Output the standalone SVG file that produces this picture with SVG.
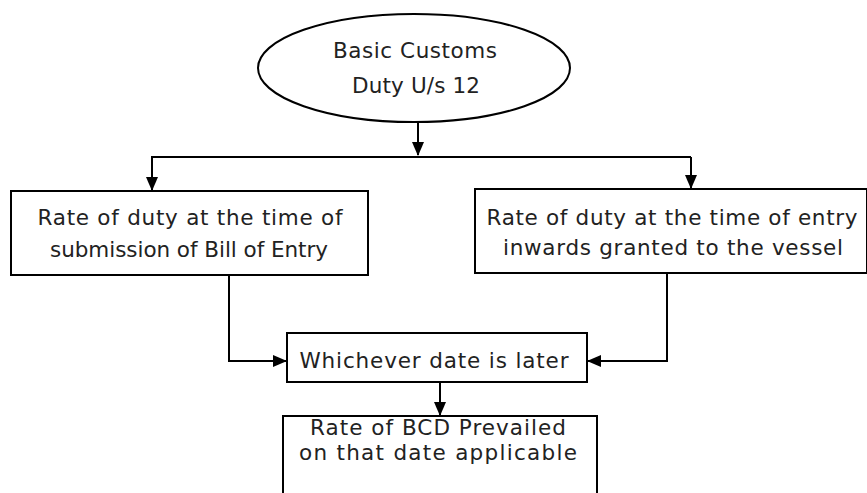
<svg xmlns="http://www.w3.org/2000/svg" width="867" height="493" viewBox="0 0 867 493">
<defs>
<marker id="ah" markerWidth="14" markerHeight="12" refX="13" refY="6" orient="auto" markerUnits="userSpaceOnUse">
<path d="M0,0 L14,6 L0,12 Z" fill="#000"/>
</marker>
<style>
.shape{fill:#fff;stroke:#000;stroke-width:2}
.lbl{font-family:"DejaVu Sans",sans-serif;font-size:21.5px;fill:#222;text-anchor:middle}
.conn{fill:none;stroke:#000;stroke-width:2}
</style>
</defs>
<rect width="867" height="493" fill="#fff"/>
<g id="connectors">
<path class="conn" d="M418,122 V155" marker-end="url(#ah)"/>
<path class="conn" d="M151,157 H691"/>
<path class="conn" d="M152,157 V190" marker-end="url(#ah)"/>
<path class="conn" d="M691,157 V188" marker-end="url(#ah)"/>
<path class="conn" d="M229,275 V361 H286" marker-end="url(#ah)"/>
<path class="conn" d="M667,273 V361 H588" marker-end="url(#ah)"/>
<path class="conn" d="M440,382 V415" marker-end="url(#ah)"/>
</g>
<g id="n1">
<ellipse class="shape" cx="414" cy="68" rx="156" ry="54"/>
<text class="lbl" x="415" y="58" textLength="164" lengthAdjust="spacing">Basic Customs</text>
<text class="lbl" x="416" y="93" textLength="128" lengthAdjust="spacing">Duty U/s 12</text>
</g>
<g id="n2">
<rect class="shape" x="11" y="191" width="357" height="84"/>
<text class="lbl" x="190" y="225" textLength="305" lengthAdjust="spacing">Rate of duty at the time of</text>
<text class="lbl" x="189" y="257" textLength="278" lengthAdjust="spacing">submission of Bill of Entry</text>
</g>
<g id="n3">
<rect class="shape" x="475" y="189" width="392" height="84"/>
<text class="lbl" x="672" y="225" textLength="371" lengthAdjust="spacing">Rate of duty at the time of entry</text>
<text class="lbl" x="673" y="255" textLength="340" lengthAdjust="spacing">inwards granted to the vessel</text>
</g>
<g id="n4">
<rect class="shape" x="287" y="333" width="300" height="49"/>
<text class="lbl" x="434" y="368" textLength="269" lengthAdjust="spacing">Whichever date is later</text>
</g>
<g id="n5">
<rect class="shape" x="283" y="416" width="314" height="90"/>
<text class="lbl" x="438" y="435" textLength="256" lengthAdjust="spacing">Rate of BCD Prevailed</text>
<text class="lbl" x="438" y="460" textLength="278" lengthAdjust="spacing">on that date applicable</text>
</g>
</svg>
